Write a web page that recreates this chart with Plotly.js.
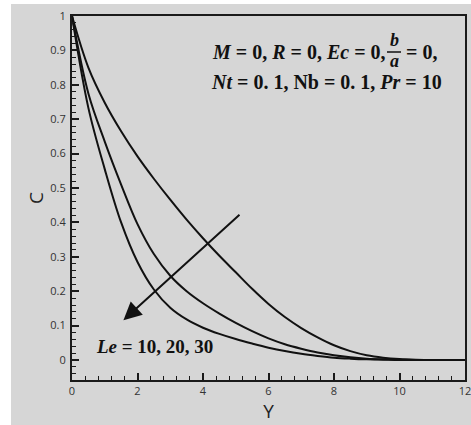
<!DOCTYPE html>
<html>
<head>
<meta charset="utf-8">
<script src="https://cdn.plot.ly/plotly-3.0.1.min.js"></script>
<style>
  html, body { margin: 0; padding: 0; background: #ffffff; }
  #bg { position: absolute; left: 11px; top: 4px; width: 460px; height: 421px; background: #d6d6d6; }
  #plot { position: absolute; left: 0; top: 0; width: 471px; height: 425px; }
</style>
</head>
<body>
<div id="bg"></div>
<div id="plot"></div>
<script>
// Y positions (x-axis)
const Y = [0, 0.5, 1, 1.5, 2, 2.5, 3, 3.5, 4, 4.5, 5, 5.5, 6, 6.5, 7, 7.5, 8, 8.5, 9, 9.5, 10, 10.5, 11, 11.5, 12];
// Concentration C for Le = 10, 20, 30
const C_Le10 = [1, 0.85, 0.748, 0.665, 0.592, 0.527, 0.466, 0.408, 0.354, 0.303, 0.255, 0.207, 0.163, 0.125, 0.093, 0.066, 0.043, 0.026, 0.014, 0.007, 0.003, 0.001, 0, 0, 0];
const C_Le20 = [1, 0.775, 0.635, 0.51, 0.395, 0.308, 0.245, 0.2, 0.165, 0.135, 0.108, 0.084, 0.063, 0.046, 0.033, 0.022, 0.014, 0.008, 0.004, 0.002, 0.001, 0, 0, 0, 0];
const C_Le30 = [1, 0.733, 0.555, 0.4, 0.285, 0.205, 0.152, 0.118, 0.094, 0.076, 0.061, 0.048, 0.036, 0.026, 0.018, 0.012, 0.007, 0.004, 0.002, 0.001, 0, 0, 0, 0, 0];
const seriesNames = ["Le = 10", "Le = 20", "Le = 30"];
const xTicks = [0, 2, 4, 6, 8, 10, 12];
const yTicks = [0, 0.1, 0.2, 0.3, 0.4, 0.5, 0.6, 0.7, 0.8, 0.9, 1];
const yTickText = ["0", "0.1", "0.2", "0.3", "0.4", "0.5", "0.6", "0.7", "0.8", "0.9", "1"];

const allC = [C_Le10, C_Le20, C_Le30];
const traces = allC.map((c, i) => ({
  x: Y, y: c, type: "scatter", mode: "lines", name: seriesNames[i],
  line: { color: "#111111", width: 2, shape: "spline", smoothing: 1 }
}));

const serif = "Liberation Serif, Times New Roman, serif";
const axisCommon = {
  showgrid: false, zeroline: false,
  showline: true, linecolor: "#1a1a1a", linewidth: 2, mirror: true,
  ticks: "inside", ticklen: 7, tickwidth: 2, tickcolor: "#1a1a1a",
  tickfont: { family: "Open Sans, sans-serif", size: 11, color: "#333333" },
  ticklabeloverflow: "allow",
  fixedrange: true
};

// pixel -> paper helpers for free text placement
const PL = 72, PW = 393, PT = 16, PH = 364;
const px = v => (v - PL) / PW;
const py = v => (PT + PH - v) / PH;

const layout = {
  width: 471, height: 425,
  margin: { l: 72, r: 6, t: 16, b: 45 },
  paper_bgcolor: "rgba(0,0,0,0)",
  plot_bgcolor: "rgba(0,0,0,0)",
  showlegend: false,
  xaxis: Object.assign({}, axisCommon, {
    range: [0, 12.0001], tickmode: "array", tickvals: xTicks,
    minor: { ticks: "inside", ticklen: 4, tickwidth: 1, tickcolor: "#1a1a1a", dtick: 0.4, tick0: 0, showgrid: false },
    title: { text: "Y", font: { family: "Open Sans, sans-serif", size: 19, color: "#222222" }, standoff: 0 }
  }),
  yaxis: Object.assign({}, axisCommon, {
    range: [-0.058, 1.0], tickmode: "array", tickvals: yTicks, ticktext: yTickText,
    minor: { ticks: "inside", ticklen: 4, tickwidth: 1, tickcolor: "#1a1a1a", dtick: 0.02, tick0: 0, showgrid: false },
    ticklabelstandoff: 2,
    title: { text: "C", font: { family: "Open Sans, sans-serif", size: 19, color: "#222222" }, standoff: 2 }
  }),
  shapes: [
    { type: "line", xref: "paper", yref: "paper", x0: px(387), x1: px(401), y0: py(52), y1: py(52),
      line: { color: "#111111", width: 1.5 } }
  ],
  annotations: [
    { xref: "paper", yref: "paper", x: px(210), y: py(52), xanchor: "left", yanchor: "middle", showarrow: false,
      text: "<b><i>M</i> = 0, <i>R</i> = 0, <i>Ec</i> = 0,</b>", font: { family: serif, size: 20, color: "#111111" } },
    { xref: "paper", yref: "paper", x: px(394), y: py(40), xanchor: "center", yanchor: "middle", showarrow: false,
      borderpad: 0, text: "<b><i>b</i></b>", font: { family: serif, size: 18, color: "#111111" } },
    { xref: "paper", yref: "paper", x: px(394), y: py(61), xanchor: "center", yanchor: "middle", showarrow: false,
      borderpad: 0, text: "<b><i>a</i></b>", font: { family: serif, size: 18, color: "#111111" } },
    { xref: "paper", yref: "paper", x: px(404), y: py(52), xanchor: "left", yanchor: "middle", showarrow: false,
      text: "<b>= 0,</b>", font: { family: serif, size: 20, color: "#111111" } },
    { xref: "paper", yref: "paper", x: px(210), y: py(82), xanchor: "left", yanchor: "middle", showarrow: false,
      borderpad: 0, text: "<b><i>Nt</i> = 0. 1, Nb = 0. 1, <i>Pr</i> = 10</b>", font: { family: serif, size: 20, color: "#111111" } },
    { xref: "x", yref: "y", x: 2.53, y: 0.038, xanchor: "center", yanchor: "middle", showarrow: false,
      text: "<b><i>Le</i> = 10, 20, 30</b>", font: { family: serif, size: 19, color: "#111111" } },
    { xref: "x", yref: "y", axref: "x", ayref: "y", x: 1.57, y: 0.116, ax: 5.16, ay: 0.426,
      text: "", showarrow: true, arrowhead: 2, arrowsize: 1.8, arrowwidth: 2, arrowcolor: "#111111" }
  ]
};

Plotly.newPlot("plot", traces, layout, { displayModeBar: false, staticPlot: true });
</script>
</body>
</html>
